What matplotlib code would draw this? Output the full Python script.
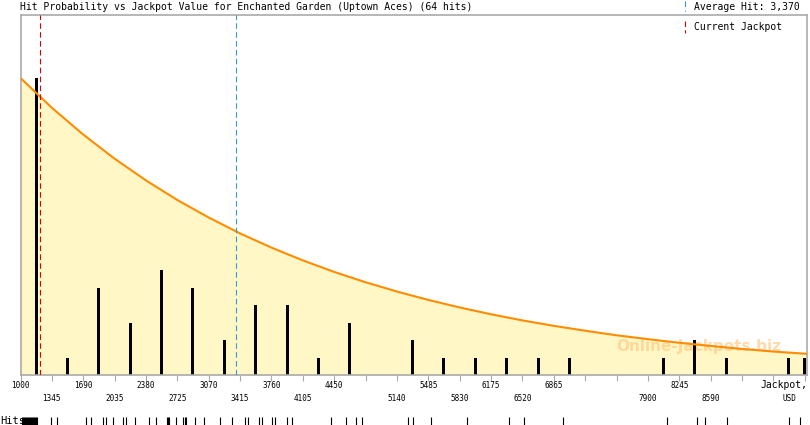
import numpy as np
import matplotlib
matplotlib.use('Agg')
import matplotlib.pyplot as plt
from matplotlib.lines import Line2D

# histogram bars (bin centre, USD) and hits per bin
bar_jackpot = [1172, 1517, 1862, 2207, 2552, 2897, 3242, 3587, 3932, 4277, 4622,
               5312, 5657, 6002, 6347, 6692, 7037, 8072, 8417, 8762, 9452, 9625]
bar_hits = [17, 1, 5, 3, 6, 5, 2, 4, 4, 1, 3, 2, 1, 1, 1, 1, 1, 1, 2, 1, 1, 1]

# probability curve (same scale as hits)
curve_jackpot = [1000, 1345, 1690, 2035, 2380, 2725, 3070, 3415, 3760, 4105, 4450,
                 4795, 5140, 5485, 5830, 6175, 6520, 6865, 7210, 7555, 7900, 8245,
                 8590, 8935, 9280, 9650]
curve_value = [16.97, 15.27, 13.74, 12.36, 11.12, 10.00, 9.00, 8.09, 7.28, 6.55, 5.89,
               5.30, 4.77, 4.29, 3.86, 3.47, 3.12, 2.81, 2.53, 2.27, 2.05, 1.84, 1.66,
               1.49, 1.34, 1.21]

# individual hits (rug at the bottom)
hits = [1015, 1030, 1040, 1050, 1060, 1070, 1085, 1095, 1100, 1115, 1125, 1135, 1150,
        1160, 1170, 1180, 1333, 1405, 1718, 1773, 1905, 1938, 2015, 2125, 2158, 2257,
        2411, 2488, 2609, 2620, 2631, 2708, 2785, 2807, 2818, 2917, 3016, 3192, 3330,
        3473, 3506, 3627, 3660, 3764, 3797, 3929, 3984, 4413, 4578, 4688, 4754, 5260,
        5315, 5513, 5909, 6371, 6536, 6965, 8109, 8439, 8527, 8769, 9451, 9572]

average_hit = 3370
current_jackpot = 1210

labels_top = ['1000', '1690', '2380', '3070', '3760', '4450', '5485', '6175', '6865', '8245']
labels_bottom = ['1345', '2035', '2725', '3415', '4105', '5140', '5830', '6520', '7900', '8590']

mono = 'DejaVu Sans Mono'
W, H = 810, 425
fig = plt.figure(figsize=(W / 100, H / 100), dpi=100)
ax = fig.add_axes([20.5 / W, 50 / H, (807 - 20.5) / W, 360 / H])

ax.fill_between(curve_jackpot, curve_value, 0, color='#fff7c6', lw=0, zorder=1)
ax.plot(curve_jackpot, curve_value, color='#ff8c00', lw=1.5, zorder=3)
ax.bar(bar_jackpot, bar_hits, width=33, color='black', zorder=2)

ax.axvline(current_jackpot, color='#dd0000', lw=0.8, dashes=(5, 3), zorder=4)
ax.axvline(average_hit, color='#3399dd', lw=0.8, dashes=(5, 3), zorder=4)

ax.set_xlim(1000, 9650)
ax.set_ylim(0, 360 / 17.5)
ax.set_yticks([])
ax.set_xticks(np.arange(1000, 9626, 345))
ax.set_xticklabels([])
ax.tick_params(axis='x', length=4, width=0.8, color='#aaaaaa', direction='out')
for s in ax.spines.values():
    s.set_color('#aaaaaa')
    s.set_linewidth(1.2)

tr = ax.get_xaxis_transform()
for lab in labels_top:
    ax.text(float(lab), -0.03, lab, transform=tr, ha='center', va='center',
            fontsize=5.5, family=mono)
for lab in labels_bottom:
    ax.text(float(lab), -0.064, lab, transform=tr, ha='center', va='center',
            fontsize=5.5, family=mono)
ax.text(1.0, -0.028, 'Jackpot,', transform=ax.transAxes, ha='right', va='center',
        fontsize=7, family=mono)
ax.text(9452, -0.064, 'USD', transform=tr, ha='center', va='center',
        fontsize=5.5, family=mono)

# hits rug
ax.vlines(hits, -0.145, -0.118, transform=tr, color='black', lw=0.8, clip_on=False)
fig.text(0, 1 - 421 / H, 'Hits', ha='left', va='center', fontsize=7.5, family=mono)

# watermark
ax.text(8460, 1.6, 'Online-Jackpots.biz', ha='center', va='center', fontsize=11,
        fontweight='bold', color='#ffc880', alpha=0.65, zorder=1.5)

# title and legend
fig.text(20 / W, 1 - 7 / H, 'Hit Probability vs Jackpot Value for Enchanted Garden (Uptown Aces) (64 hits)',
         ha='left', va='center', fontsize=7, family=mono)
fig.text(694 / W, 1 - 7 / H, 'Average Hit: 3,370', ha='left', va='center', fontsize=7, family=mono)
fig.text(694 / W, 1 - 27 / H, 'Current Jackpot', ha='left', va='center', fontsize=7, family=mono)
fig.add_artist(Line2D([685 / W, 685 / W], [1 - 1 / H, 1 - 11 / H], color='#3399dd', lw=0.8,
                      dashes=(5, 3), transform=fig.transFigure))
fig.add_artist(Line2D([685 / W, 685 / W], [1 - 21 / H, 1 - 33 / H], color='#dd0000', lw=0.8,
                      dashes=(5, 3), transform=fig.transFigure))

fig.savefig('out.png', dpi=100)
